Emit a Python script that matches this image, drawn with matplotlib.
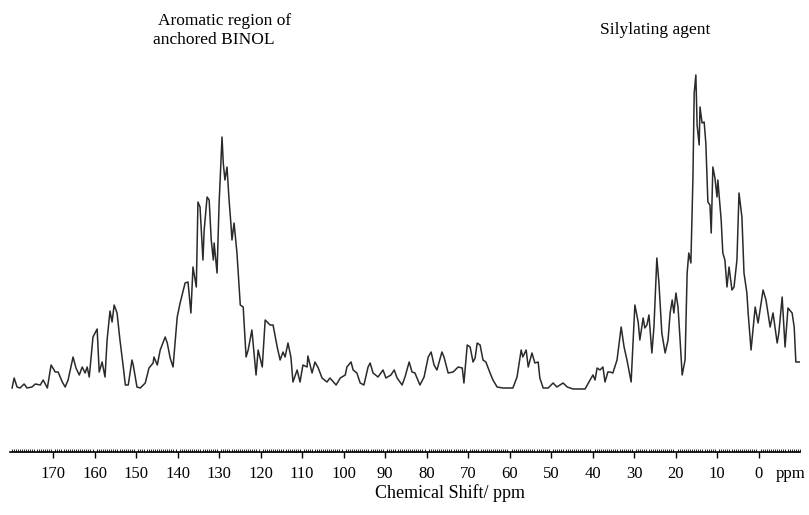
import matplotlib
matplotlib.use("Agg")
import matplotlib.pyplot as plt
from matplotlib.ticker import MultipleLocator

# chemical shift (ppm) and intensity (arb. units)
shift = [179.9, 179.4, 178.7, 178.0, 177.0, 176.3, 175.1, 174.3, 173.1, 172.4,
         171.4, 170.5, 169.5, 168.8, 167.8, 167.1, 166.4, 165.2, 164.5, 163.7,
         163.0, 162.3, 161.8, 161.3, 160.4, 159.4, 158.9, 158.2, 157.5, 157.0,
         156.3, 155.8, 155.3, 154.6, 153.9, 153.1, 152.6, 151.9, 151.0, 150.7,
         149.8, 149.0, 147.8, 146.9, 145.9, 145.7, 144.9, 144.2, 143.0, 142.5,
         141.8, 141.1, 140.1, 139.4, 138.2, 137.5, 136.8, 136.3, 135.5, 135.1,
         134.6, 133.9, 133.6, 132.9, 132.4, 131.9, 131.4, 131.2, 130.5, 130.0,
         129.3, 129.0, 128.6, 128.1, 127.6, 127.1, 126.9, 126.4, 125.7, 124.9,
         124.2, 123.5, 123.0, 122.1, 121.6, 121.1, 120.6, 119.6, 118.9, 118.2,
         117.7, 117.0, 116.0, 115.3, 114.6, 114.1, 113.4, 112.7, 112.2, 111.2,
         110.5, 109.8, 108.8, 108.6, 107.6, 106.9, 106.1, 105.2, 104.0, 103.3,
         101.8, 100.8, 99.6, 99.2, 98.2, 97.7, 96.8, 96.0, 95.1, 94.1,
         93.6, 92.9, 91.7, 90.5, 89.8, 88.6, 87.8, 87.1, 85.9, 85.2,
         84.2, 83.5, 82.8, 81.6, 80.6, 79.6, 78.9, 78.2, 77.5, 76.3,
         75.8, 74.8, 73.6, 72.4, 71.4, 71.0, 70.2, 69.5, 68.8, 68.3,
         67.8, 67.1, 66.4, 65.7, 64.7, 64.0, 63.0, 61.6, 59.2, 58.2,
         57.2, 56.8, 56.0, 55.5, 54.6, 53.9, 53.1, 52.7, 51.9, 50.7,
         49.5, 48.6, 47.1, 46.1, 44.7, 41.8, 40.6, 39.9, 39.4, 38.9,
         38.2, 37.5, 37.0, 36.3, 35.8, 35.1, 34.1, 33.1, 32.4, 31.7,
         30.7, 30.2, 29.8, 29.0, 28.6, 27.8, 27.4, 26.9, 26.4, 25.7,
         25.2, 24.5, 24.0, 23.3, 22.5, 21.8, 21.3, 20.8, 20.4, 19.9,
         19.4, 18.9, 18.4, 17.7, 17.2, 16.8, 16.3, 15.8, 15.5, 15.1,
         14.8, 14.3, 14.1, 13.6, 13.1, 12.7, 12.2, 11.7, 11.4, 11.0,
         10.5, 10.0, 9.8, 9.0, 8.6, 8.1, 7.6, 7.1, 6.4, 5.9,
         5.2, 4.7, 4.0, 3.5, 2.8, 2.5, 1.8, 0.8, 0.1, -1.1,
         -1.8, -2.8, -3.5, -4.5, -4.9, -5.7, -6.4, -7.1, -8.1, -8.6,
         -9.0, -10.0]

intensity = [12, 22, 13, 12, 16, 12, 13, 16, 15, 20,
             12, 35, 28, 28, 18, 13, 20, 43, 32, 25,
             33, 27, 33, 23, 63, 71, 28, 38, 23, 60,
             89, 78, 95, 87, 60, 33, 15, 15, 40, 35,
             13, 12, 17, 32, 37, 43, 35, 50, 63, 57,
             42, 33, 83, 97, 117, 118, 87, 133, 113, 198,
             193, 140, 170, 203, 200, 160, 140, 157, 127, 197,
             263, 237, 220, 233, 200, 173, 160, 177, 147, 95,
             93, 43, 50, 70, 47, 25, 50, 33, 80, 77,
             75, 75, 53, 40, 48, 43, 57, 43, 18, 30,
             18, 35, 33, 44, 27, 38, 32, 22, 18, 22,
             15, 22, 25, 33, 38, 30, 27, 17, 15, 33,
             37, 27, 23, 30, 22, 25, 30, 22, 15, 23,
             38, 28, 27, 15, 23, 43, 48, 35, 30, 48,
             43, 27, 28, 33, 32, 17, 55, 53, 38, 42,
             57, 55, 40, 38, 27, 20, 13, 12, 12, 23,
             50, 43, 50, 33, 47, 37, 38, 22, 12, 12,
             17, 13, 17, 13, 11, 11, 20, 25, 20, 32,
             30, 33, 18, 28, 28, 27, 40, 73, 53, 40,
             18, 60, 95, 78, 60, 82, 72, 75, 85, 47,
             73, 142, 117, 67, 47, 60, 87, 100, 87, 107,
             93, 60, 25, 40, 127, 147, 137, 223, 307, 325,
             275, 255, 293, 277, 278, 257, 198, 195, 167, 233,
             222, 203, 220, 180, 147, 140, 113, 133, 110, 113,
             140, 207, 183, 127, 107, 87, 50, 93, 77, 110,
             100, 73, 87, 57, 67, 103, 53, 92, 87, 73,
             38, 38]

ticks = list(range(170, -1, -10))

plt.rcParams['font.family'] = ['Liberation Serif', 'DejaVu Serif']

fig = plt.figure(figsize=(8.09, 5.15), dpi=100)
ax = fig.add_axes([10 / 809, 1 - 452 / 515, 790 / 809, 392 / 515])
ax.plot(shift, intensity, color='#2a2a2a', linewidth=1.1)

ax.set_xlim(180.4, -10.0)
ax.set_ylim(-52, 340)
ax.set_xticks(ticks)
ax.set_xticklabels([str(t) for t in ticks], fontsize=12)
ax.xaxis.set_minor_locator(MultipleLocator(0.5))
ax.tick_params(axis='x', which='major', direction='out', length=4, width=1, pad=6)
ax.tick_params(axis='x', which='minor', direction='in', length=2, width=0.6)
ax.set_yticks([])
for s in ['left', 'right', 'top']:
    ax.spines[s].set_visible(False)
ax.spines['bottom'].set_linewidth(1.2)

ax.annotate('ppm', xy=(-7.8, 0), xycoords=('data', 'axes fraction'),
            xytext=(0, -10), textcoords='offset points',
            ha='center', va='top', fontsize=12)
fig.text(450 / 809, 1 - 493 / 515, 'Chemical Shift/ ppm', ha='center', va='center', fontsize=13)

fig.text(158 / 809, 1 - 21 / 515, 'Aromatic region of', ha='left', va='center', fontsize=12.5)
fig.text(153 / 809, 1 - 40 / 515, 'anchored BINOL', ha='left', va='center', fontsize=12.5)
fig.text(600 / 809, 1 - 30 / 515, 'Silylating agent', ha='left', va='center', fontsize=12.5)

fig.savefig('out.png', dpi=100)
